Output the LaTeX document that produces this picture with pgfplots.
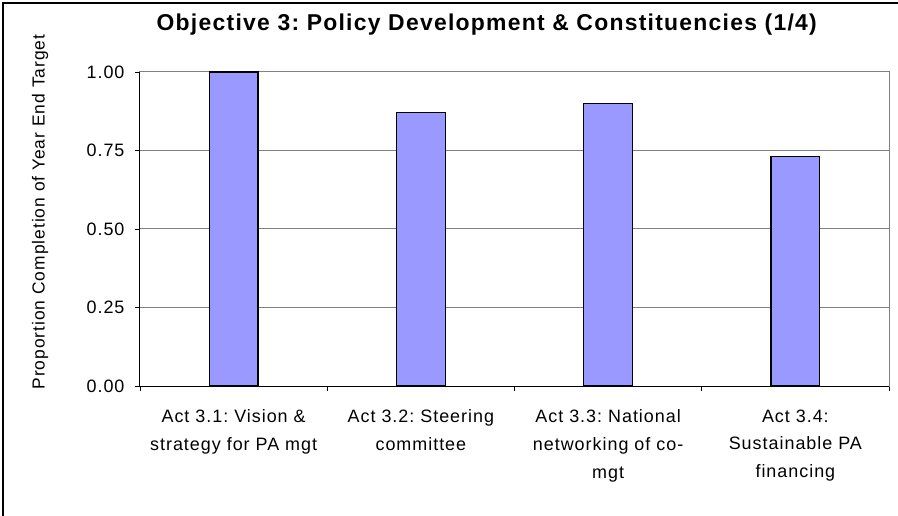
\documentclass[border=0pt]{standalone}
\usepackage{fontspec}
\setmainfont{Liberation Sans}[LetterSpace=5.5]
\usepackage{pgfplots}
\pgfplotsset{compat=1.18}
\definecolor{barblue}{HTML}{9999FF}
\definecolor{gridgray}{HTML}{808080}
\frenchspacing
\begin{document}
\begin{tikzpicture}
\begin{axis}[
  name=ax,
  width=749bp, height=314bp, scale only axis,
  xmin=-0.5, xmax=3.5, ymin=0, ymax=1,
  clip=false,
  font=\fontsize{18}{28}\selectfont,
  xtick={-0.5,0.5,1.5,2.5,3.5},
  xticklabels={},
  extra x ticks={0,1,2,3},
  extra x tick labels={{Act 3.1: Vision \&\\strategy for PA mgt},{Act 3.2: Steering\\committee},{Act 3.3: National\\networking of co-\\mgt},{Act 3.4:\\Sustainable PA\\financing}},
  extra x tick style={major tick length=0pt, xticklabel style={align=center, yshift=-20bp}},
  ytick={0,0.25,0.5,0.75,1},
  yticklabel style={xshift=-7bp, /pgf/number format/.cd, fixed, fixed zerofill, precision=2, assume math mode=true},
  ymajorgrids,
  grid style={gridgray, line width=1bp},
  axis line style={gridgray, line width=1bp},
  tick align=outside,
  tick pos=left,
  major tick length=5bp,
  tick style={black, line width=0.8bp},
  ylabel={Proportion Completion of Year End Target},
  ylabel style={anchor=center, at={(rel axis cs:-0.1335,0.554)}, font=\fontsize{17.5}{21}\selectfont},
  title={\bfseries Objective 3: Policy Development \& Constituencies (1/4)},
  title style={anchor=base, at={(rel axis cs:0.463,1.113)}, font=\fontsize{23}{27}\selectfont},
]
\addplot[ybar, bar width=0.26, fill=barblue, draw=black, line width=1.2bp]
  coordinates {(0,1.00) (1,0.87) (2,0.90) (3,0.73)};
\draw[black, line width=1bp] (rel axis cs:0,1) -- (rel axis cs:0,0) -- (rel axis cs:1,0);
\end{axis}
\draw[black, line width=1.2bp] ([xshift=-137bp,yshift=-130bp]ax.south west) -- ([xshift=-137bp,yshift=69bp]ax.north west) -- ([xshift=9bp,yshift=69bp]ax.north east);
\pgfresetboundingbox
\path[use as bounding box] ([xshift=-140bp,yshift=-130bp]ax.south west) rectangle ([xshift=9bp,yshift=72bp]ax.north east);
\end{tikzpicture}
\end{document}
